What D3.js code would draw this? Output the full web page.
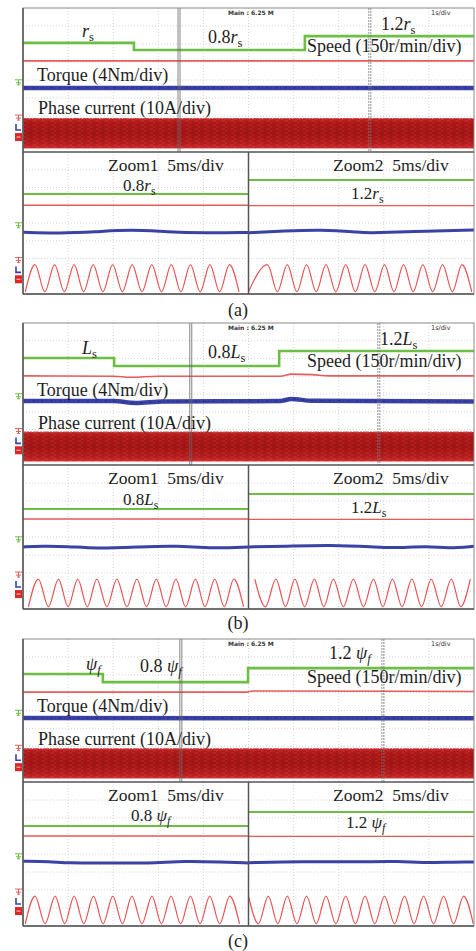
<!DOCTYPE html>
<meta charset="utf-8">

<head>
    <title>Parameter mismatch waveforms</title>
    <script src="https://d3js.org/d3.v7.min.js"></script>
    <style>
        body { margin: 0; background: #fff; }
        svg text { font-family: "Liberation Serif", "Times New Roman", serif; fill: #1e1e1e; }
        .scope { font-family: "DejaVu Sans", sans-serif; font-weight: bold; fill: #333; }
    </style>
</head>

<body>
    <svg id="svg" width="476" height="951"></svg>

    <script>
        // ---- values read off the three captures ----
        // overview window: time in s (0..10, 1s/div), traces in divisions (0 = bottom, 8 = top)
        const speedA = [[0, 6.06], [2.46, 5.67], [6.25, 6.44], [10, 6.44]]
        const speedB = [[0, 6.03], [2.02, 5.58], [5.68, 6.42], [10, 6.42]]
        const speedC = [[0, 6.04], [1.77, 5.59], [4.99, 6.37], [10, 6.37]]

        const refA = [[0, 5.06], [10, 5.06]]
        const refB = [[0, 5.02], [2.0, 5.0], [2.4, 4.94], [3.0, 5.0], [5.7, 5.0], [5.95, 5.12], [6.4, 5.09], [6.8, 5.02], [10, 5.02]]
        const refC = [[0, 5.03], [4.95, 5.03], [5.1, 5.09], [10, 5.06]]

        const torqueA = [[0, 3.56], [10, 3.56]]
        const torqueB = [[0, 3.6], [2.0, 3.6], [2.5, 3.5], [3.1, 3.58], [5.7, 3.6], [5.95, 3.72], [6.4, 3.62], [10, 3.58]]
        const torqueC = [[0, 3.58], [10, 3.56]]

        const currentBand = [0.2, 1.86]          // phase-current envelope (div)
        const cursorsA = [3.46, 7.69]            // solid / dashed cursor (s)
        const cursorsB = [3.72, 7.89]
        const cursorsC = [3.5, 7.98]

        // zoom windows: time in ms (0..25, 5ms/div), traces in divisions
        const zoomSpeedA = [5.63, 6.42]
        const zoomSpeedB = [5.56, 6.39]
        const zoomSpeedC = [5.56, 6.33]
        const zoomRef = [5.0, 4.98]

        const zTorqueA1 = [[0, 3.48], [4, 3.42], [8, 3.5], [12, 3.63], [16, 3.5], [20, 3.44], [25, 3.47]]
        const zTorqueA2 = [[0, 3.45], [4, 3.55], [8, 3.62], [12, 3.5], [13, 3.42], [18, 3.52], [25, 3.6]]
        const zTorqueB1 = [[0, 3.45], [2, 3.5], [5, 3.48], [8, 3.35], [13, 3.45], [17, 3.52], [21, 3.36], [25, 3.45]]
        const zTorqueB2 = [[0, 3.45], [4, 3.48], [9, 3.56], [14, 3.45], [16, 3.38], [20, 3.5], [22, 3.36], [25, 3.48]]
        const zTorqueC1 = [[0, 3.6], [3, 3.58], [5, 3.5], [9, 3.5], [14, 3.48], [18, 3.62], [22, 3.55], [25, 3.5]]
        const zTorqueC2 = [[0, 3.52], [6, 3.58], [12, 3.56], [17, 3.6], [19, 3.5], [23, 3.56], [25, 3.55]]

        // phase current in zoom windows: times (ms) of crests and troughs
        const sineHigh = 1.66, sineLow = 0.12
        const peaksA1 = [1.33, 3.5, 5.67, 7.78, 9.94, 12.1, 14.28, 16.44, 18.56, 20.72, 22.89]
        const troughsA1 = [0.25, 2.42, 4.58, 6.72, 8.86, 11.02, 13.19, 15.36, 17.5, 19.64, 21.8, 23.95]
        const peaksA2 = [2.11, 4.3, 6.44, 8.59, 10.78, 12.92, 15.08, 17.19, 19.33, 21.52, 23.67]
        const troughsA2 = [0.0, 3.2, 5.37, 7.51, 9.68, 11.85, 14.0, 16.13, 18.26, 20.42, 22.6, 24.75]
        const peaksB1 = [1.7, 3.93, 6.07, 8.19, 10.41, 12.63, 14.78, 16.96, 19.11, 21.26, 23.37]
        const troughsB1 = [0.6, 2.82, 5.0, 7.13, 9.3, 11.52, 13.7, 15.87, 18.03, 20.18, 22.31, 24.45]
        const peaksB2 = [0.7, 3.04, 5.15, 7.3, 9.41, 11.63, 13.85, 15.96, 18.11, 20.26, 22.48, 24.59]
        const troughsB2 = [1.87, 4.1, 6.22, 8.35, 10.52, 12.74, 14.9, 17.03, 19.18, 21.37, 23.53]
        const peaksC1 = [1.33, 3.56, 5.67, 7.81, 9.96, 12.07, 14.3, 16.41, 18.56, 20.7, 22.92]
        const troughsC1 = [0.25, 2.45, 4.62, 6.74, 8.88, 11.02, 13.18, 15.35, 17.48, 19.63, 21.81, 24.0]
        const peaksC2 = [0.0, 2.19, 4.3, 6.44, 8.59, 10.78, 12.92, 15.08, 17.3, 19.41, 21.63, 23.85]
        const troughsC2 = [1.1, 3.25, 5.37, 7.51, 9.68, 11.85, 14.0, 16.19, 18.35, 20.52, 22.74, 24.92]

        // parameter symbols and panel captions
        const paramSymbols = ['r', 'L', 'ψ']
        const paramSubs = ['s', 's', 'f']
        const captions = ['(a)', '(b)', '(c)']

        // ---- layout ----
        const x0 = 23, x1 = 474, xMid = 248.5
        const layout = [
            { top: 8, mid: 152, bottom: 294, cap: 316 },
            { top: 323, mid: 465, bottom: 609, cap: 629 },
            { top: 639, mid: 782, bottom: 926, cap: 947 }
        ]

        const green = '#6cbf44', redThin = '#e35d5d', blue = '#3a42a6', redSine = '#e65656'

        const svg = d3.select('#svg')

        // envelope fill: vertical shading plus a fine streak texture
        const defs = svg.append('defs')
        const grad = defs.append('linearGradient').attr('id', 'band').attr('x1', 0).attr('x2', 0).attr('y1', 0).attr('y2', 1)
        grad.append('stop').attr('offset', '0%').attr('stop-color', '#c82828')
        grad.append('stop').attr('offset', '15%').attr('stop-color', '#b01a1a')
        grad.append('stop').attr('offset', '50%').attr('stop-color', '#a31515')
        grad.append('stop').attr('offset', '85%').attr('stop-color', '#bb2020')
        grad.append('stop').attr('offset', '100%').attr('stop-color', '#d63434')
        const pat = defs.append('pattern').attr('id', 'streak').attr('patternUnits', 'userSpaceOnUse')
            .attr('width', 9).attr('height', 4)
        pat.append('path').attr('d', 'M0,1h5M3,3h6').attr('stroke', '#7e0c0c').attr('stroke-width', 0.6).attr('opacity', 0.5)
        pat.append('path').attr('d', 'M6,1h3M0,3h2').attr('stroke', '#e04040').attr('stroke-width', 0.6).attr('opacity', 0.5)

        const panelData = [
            { speed: speedA, ref: refA, torque: torqueA, cursors: cursorsA, zSpeed: zoomSpeedA,
              zTorque: [zTorqueA1, zTorqueA2], peaks: [peaksA1, peaksA2], troughs: [troughsA1, troughsA2] },
            { speed: speedB, ref: refB, torque: torqueB, cursors: cursorsB, zSpeed: zoomSpeedB,
              zTorque: [zTorqueB1, zTorqueB2], peaks: [peaksB1, peaksB2], troughs: [troughsB1, troughsB2] },
            { speed: speedC, ref: refC, torque: torqueC, cursors: cursorsC, zSpeed: zoomSpeedC,
              zTorque: [zTorqueC1, zTorqueC2], peaks: [peaksC1, peaksC2], troughs: [troughsC1, troughsC2] }
        ]

        // label positions (x start, baseline offset from panel top / zoom top)
        const labelPos = [
            { base: [82, 29], low: [208, 35], high: [381, 22], zLow: [123, 39], zHigh: [351, 47] },
            { base: [82, 31], low: [208, 35], high: [380, 22], zLow: [123, 40], zHigh: [351, 48] },
            { base: [86, 31], low: [140, 33], high: [329, 20], zLow: [131, 39], zHigh: [346, 46] }
        ]

        function grid(g, yTop, yBot) {
            const step = (x1 - x0) / 10
            for (let i = 1; i < 10; i++) {
                g.append('line').attr('x1', x0 + i * step).attr('x2', x0 + i * step)
                    .attr('y1', yTop).attr('y2', yBot)
                    .attr('stroke', '#c9c9c9').attr('stroke-width', 0.8).attr('stroke-dasharray', '1,2')
            }
            const dy = (yBot - yTop) / 8
            for (let j = 1; j < 8; j++) {
                g.append('line').attr('x1', x0).attr('x2', x1)
                    .attr('y1', yTop + j * dy).attr('y2', yTop + j * dy)
                    .attr('stroke', '#c9c9c9').attr('stroke-width', 0.8).attr('stroke-dasharray', '1,2')
            }
        }

        function markers(g, y) {
            // channel ground markers at the left edge
            const mk = [[y(3.9), green], [y(1.94), '#e35d5d']]
            mk.forEach(([yy, c]) => {
                g.append('path').attr('d', `M15,${yy - 2}h7M18.5,${yy - 2}v5M16,${yy + 1}h5M17,${yy + 3}h3`)
                    .attr('stroke', c).attr('stroke-width', 1).attr('fill', 'none')
            })
            g.append('path').attr('d', `M16,${y(1.33) - 4}v6h5`).attr('stroke', blue).attr('stroke-width', 1.6).attr('fill', 'none')
            g.append('rect').attr('x', 15).attr('y', y(0.83) - 4).attr('width', 7).attr('height', 8).attr('fill', '#e02525')
            g.append('path').attr('d', `M16.5,${y(0.83)}h4`).attr('stroke', '#fff').attr('stroke-width', 0.8)
        }

        function label(g, x, y, prefix, i, size) {
            const t = g.append('text').attr('x', x).attr('y', y).style('font-size', size + 'px')
            if (prefix) t.append('tspan').text(prefix + (i === 2 ? ' ' : ''))
            t.append('tspan').style('font-style', 'italic').text(paramSymbols[i])
            t.append('tspan').attr('dy', 3.5).style('font-size', (size * 0.7) + 'px')
                .style('font-style', i === 2 ? 'italic' : 'normal').text(paramSubs[i])
        }

        layout.forEach((L, p) => {
            const d = panelData[p]
            const g = svg.append('g')

            // ---------- overview window ----------
            const x = d3.scaleLinear().domain([0, 10]).range([x0, x1])
            const y = d3.scaleLinear().domain([0, 8]).range([L.mid, L.top])
            grid(g, L.top, L.mid)

            g.append('text').attr('class', 'scope').attr('x', 228).attr('y', L.top + 7)
                .style('font-size', '6px').text('Main : 6.25 M')
            g.append('text').attr('class', 'scope').attr('x', 431).attr('y', L.top + 7)
                .style('font-size', '6.5px').style('font-weight', 'normal').text('1s/div')

            // phase current envelope
            const bandY = y(currentBand[1]), bandH = y(currentBand[0]) - y(currentBand[1])
            g.append('rect').attr('x', x(0)).attr('width', x(10) - x(0))
                .attr('y', bandY).attr('height', bandH).attr('fill', 'url(#band)')
            g.append('rect').attr('x', x(0)).attr('width', x(10) - x(0))
                .attr('y', bandY).attr('height', bandH).attr('fill', 'url(#streak)')
            g.append('line').attr('x1', x0).attr('x2', x1).attr('y1', bandY).attr('y2', bandY)
                .attr('stroke', '#d84848').attr('stroke-width', 1).attr('stroke-dasharray', '6,1,2,1')

            const line = d3.line().x(v => x(v[0])).y(v => y(v[1]))
            g.append('path').datum(d.ref).attr('d', line.curve(d3.curveMonotoneX))
                .attr('fill', 'none').attr('stroke', redThin).attr('stroke-width', 1.6)
            g.append('path').datum(d.torque).attr('d', line.curve(d3.curveMonotoneX))
                .attr('fill', 'none').attr('stroke', blue).attr('stroke-width', 4.5)
            g.append('path').datum(d.torque).attr('d', line.curve(d3.curveMonotoneX))
                .attr('fill', 'none').attr('stroke', '#2b3190').attr('stroke-width', 1.2).attr('stroke-dasharray', '3,2,1,3')
            g.append('path').datum(d.speed).attr('d', line.curve(d3.curveStepAfter))
                .attr('fill', 'none').attr('stroke', green).attr('stroke-width', 2.6)

            // cursors
            const c0 = x(d.cursors[0]), c1 = x(d.cursors[1])
            ;[c0 - 1, c0 + 1].forEach(cx => g.append('line').attr('x1', cx).attr('x2', cx)
                .attr('y1', L.top).attr('y2', L.mid).attr('stroke', '#666').attr('stroke-width', 0.8))
            ;[c1 - 1, c1 + 1].forEach(cx => g.append('line').attr('x1', cx).attr('x2', cx)
                .attr('y1', L.top).attr('y2', L.mid).attr('stroke', '#777').attr('stroke-width', 0.8).attr('stroke-dasharray', '2,1'))

            markers(g, y)

            const lp = labelPos[p]
            label(g, lp.base[0], L.top + lp.base[1], '', p, 18)
            label(g, lp.low[0], L.top + lp.low[1], '0.8', p, 18)
            label(g, lp.high[0], L.top + lp.high[1], '1.2', p, 18)
            g.append('text').attr('x', 307).attr('y', L.top + 44).style('font-size', '18px').text('Speed (150r/min/div)')
            g.append('text').attr('x', 37).attr('y', L.top + 73).style('font-size', '18px').text('Torque (4Nm/div)')
            g.append('text').attr('x', 38).attr('y', L.top + 106).style('font-size', '18px').text('Phase current (10A/div)')

            // ---------- zoom windows ----------
            const yz = d3.scaleLinear().domain([0, 8]).range([L.bottom, L.mid])
            grid(g, L.mid, L.bottom)
            const xz = [d3.scaleLinear().domain([0, 25]).range([x0, xMid]),
                        d3.scaleLinear().domain([0, 25]).range([xMid, x1])]

            xz.forEach((sx, w) => {
                const zl = d3.line().x(v => sx(v[0])).y(v => yz(v[1]))
                g.append('path').datum([[0, d.zSpeed[w]], [25, d.zSpeed[w]]]).attr('d', zl)
                    .attr('fill', 'none').attr('stroke', green).attr('stroke-width', 2)
                g.append('path').datum([[0, zoomRef[w]], [25, zoomRef[w]]]).attr('d', zl)
                    .attr('fill', 'none').attr('stroke', redThin).attr('stroke-width', 1.3)
                g.append('path').datum(d.zTorque[w]).attr('d', zl.curve(d3.curveBasis))
                    .attr('fill', 'none').attr('stroke', blue).attr('stroke-width', 3)

                const ext = d.peaks[w].map(t => [t, sineHigh]).concat(d.troughs[w].map(t => [t, sineLow]))
                    .sort((a, b) => a[0] - b[0])
                g.append('path').datum(ext).attr('d', d3.line().x(v => sx(v[0])).y(v => yz(v[1])).curve(d3.curveMonotoneX))
                    .attr('fill', 'none').attr('stroke', redSine).attr('stroke-width', 1.2)
            })

            markers(g, yz)

            g.append('text').attr('x', 108).attr('y', L.mid + 19).style('font-size', '17.5px').text('Zoom1  5ms/div')
                .attr('xml:space', 'preserve')
            g.append('text').attr('x', 333).attr('y', L.mid + 19).style('font-size', '17.5px').text('Zoom2  5ms/div')
                .attr('xml:space', 'preserve')
            label(g, lp.zLow[0], L.mid + lp.zLow[1], '0.8', p, 17)
            label(g, lp.zHigh[0], L.mid + lp.zHigh[1], '1.2', p, 17)

            // frames
            g.append('rect').attr('x', x0).attr('y', L.top).attr('width', x1 - x0).attr('height', L.bottom - L.top)
                .attr('fill', 'none').attr('stroke', '#8a8a8a').attr('stroke-width', 1)
            g.append('line').attr('x1', x0).attr('x2', x1).attr('y1', L.mid).attr('y2', L.mid)
                .attr('stroke', '#555').attr('stroke-width', 1.6)
            g.append('line').attr('x1', x0).attr('x2', x0).attr('y1', L.top).attr('y2', L.bottom)
                .attr('stroke', '#555').attr('stroke-width', 1.5)
            g.append('line').attr('x1', xMid).attr('x2', xMid).attr('y1', L.mid).attr('y2', L.bottom)
                .attr('stroke', '#555').attr('stroke-width', 1.5)
            g.append('line').attr('x1', x0).attr('x2', x1).attr('y1', L.bottom).attr('y2', L.bottom)
                .attr('stroke', '#555').attr('stroke-width', 1.3)

            g.append('text').attr('x', 238).attr('y', L.cap).attr('text-anchor', 'middle')
                .style('font-size', '18px').text(captions[p])
        })
    </script>
</body>

</html>
